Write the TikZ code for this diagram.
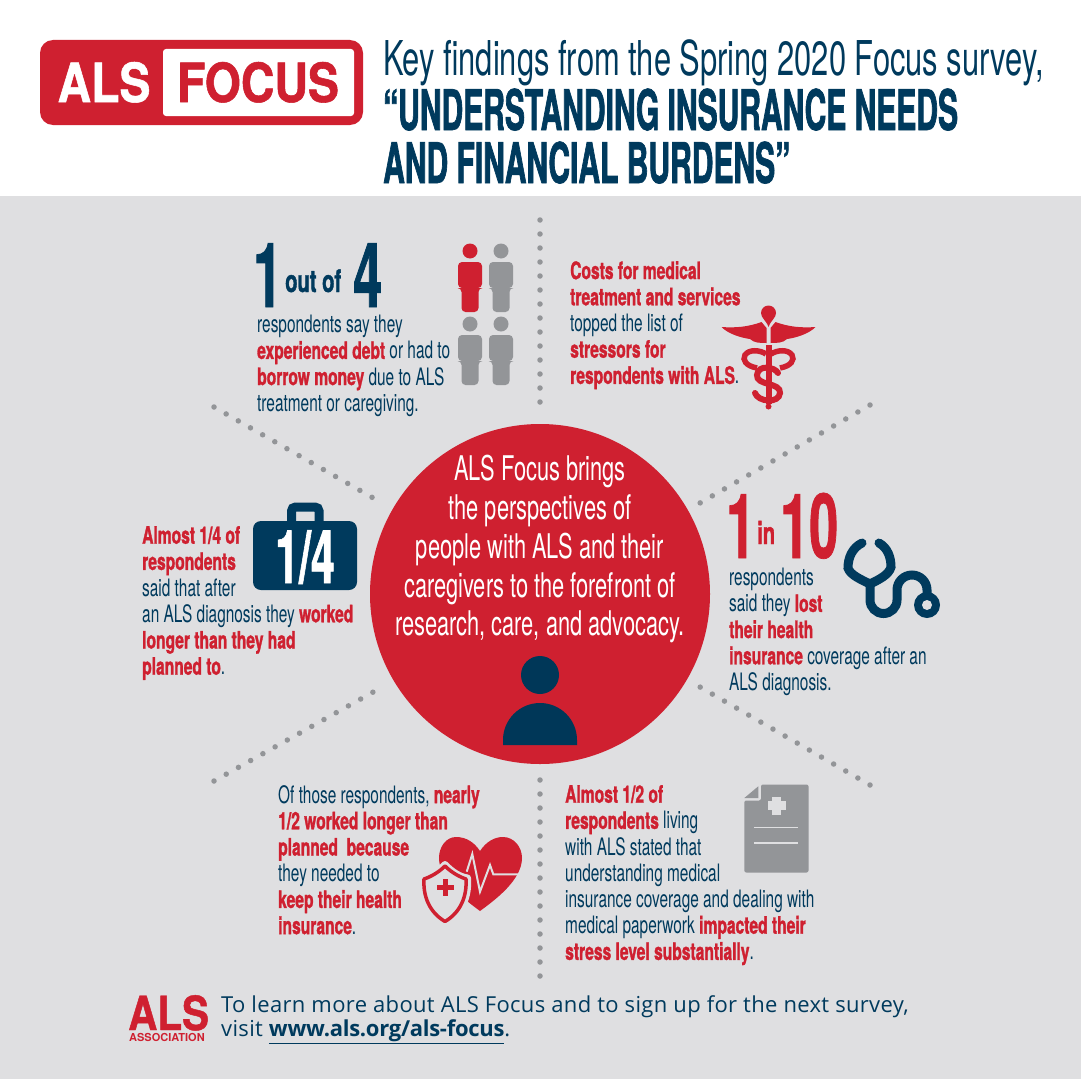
\documentclass[tikz,border=0pt]{standalone}
\usepackage{fontspec}
\setmainfont{TeX Gyre Heros}
\newfontfamily\bodyreg{TeX Gyre Heros}[FakeStretch=0.642]
\newfontfamily\bodyheavy{TeX Gyre Heros}[FakeStretch=0.65,BoldFeatures={FakeBold=1.2}]
\newfontfamily\titlereg{TeX Gyre Heros}[FakeStretch=0.643]
\newfontfamily\titleheavy{TeX Gyre Heros}[FakeStretch=0.536,BoldFeatures={FakeBold=1.2}]
\newfontfamily\bignum{TeX Gyre Heros}[FakeStretch=0.58,BoldFeatures={FakeBold=0.8}]
\newfontfamily\logofont{TeX Gyre Heros}[FakeStretch=0.86,BoldFeatures={FakeBold=1}]
\newfontfamily\assocfont{TeX Gyre Heros}[FakeStretch=1.0]
\newfontfamily\footfont{Open Sans}[LetterSpace=1.5,BoldFeatures={LetterSpace=-1.2}]
\definecolor{alsred}{RGB}{207, 32, 48}
\definecolor{alsnavy}{RGB}{0, 58, 93}
\definecolor{alsgray}{RGB}{147, 149, 152}
\definecolor{panelgray}{RGB}{223, 223, 225}
\newcommand{\hl}[1]{{\bodyheavy\bfseries\color{alsred}#1}}
\tikzset{
  bodytext/.style={anchor=north west, inner sep=0pt, align=left, text=alsnavy, font=\bodyreg\fontsize{24}{26.2}\selectfont},
  bignumber/.style={anchor=base west, inner sep=0pt, font=\bignum\bfseries\fontsize{90}{90}\selectfont},
  smallword/.style={anchor=base west, inner sep=0pt, font=\bodyheavy\bfseries\fontsize{31}{31}\selectfont},
  spoke/.style={draw=alsgray, line width=5.5pt, line cap=round, dash pattern=on 0pt off 14pt},
  personicon/.pic={
    \fill[pic actions] (0,0) circle (7.5);
    \fill[pic actions, rounded corners=4pt] (-12,37) -- (-12,11) -- (12,11) -- (12,37) -- (8.5,37) -- (8.5,61) -- (-8.5,61) -- (-8.5,37) -- cycle;
  }
}
\begin{document}
\begin{tikzpicture}[x=1pt, y=-1pt]
  \useasboundingbox (0,0) rectangle (1081,1081);
  \fill[white] (0,0) rectangle (1081,1081);
  \fill[panelgray] (0,196) rectangle (1081,1079);

  % Logo
  \fill[alsred, rounded corners=13pt] (40,40) rectangle (363,125);
  \fill[white, rounded corners=3pt] (163,49) rectangle (354,116);
  \node[anchor=base, inner sep=0pt, text=white, font=\logofont\bfseries\fontsize{54}{54}\selectfont] (logoals) at (104,102) {ALS};
  \node[anchor=base, inner sep=0pt, text=alsred, font=\logofont\bfseries\fontsize{54}{54}\selectfont] (logofocus) at (258,102) {FOCUS};

  % Title
  \node[anchor=base west, inner sep=0pt, text=alsnavy, font=\titlereg\fontsize{48}{48}\selectfont] (titleone) at (383,75) {Key findings from the Spring 2020 Focus survey,};
  \node[anchor=base west, inner sep=0pt, text=alsnavy, font=\titleheavy\bfseries\fontsize{56}{56}\selectfont] (titletwo) at (383,130) {“UNDERSTANDING INSURANCE NEEDS};
  \node[anchor=base west, inner sep=0pt, text=alsnavy, font=\titleheavy\bfseries\fontsize{56}{56}\selectfont] (titlethree) at (383,183) {AND FINANCIAL BURDENS”};

  % Dotted spokes
  \coordinate (topa) at (540,220);
  \coordinate (topb) at (540,403);
  \coordinate (bota) at (540,780);
  \coordinate (botb) at (540,977);
  \coordinate (ula) at (214,407);
  \coordinate (ulb) at (375,499);
  \coordinate (ura) at (870,405);
  \coordinate (urb) at (700,503);
  \coordinate (lla) at (214,781);
  \coordinate (llb) at (375,691);
  \coordinate (lra) at (870,785);
  \coordinate (lrb) at (700,687);
  \draw[spoke] (topa) -- (topb);
  \draw[spoke] (bota) -- (botb);
  \draw[spoke] (ula) -- (ulb);
  \draw[spoke] (ura) -- (urb);
  \draw[spoke] (lla) -- (llb);
  \draw[spoke] (lra) -- (lrb);

  % Centre circle
  \fill[alsred] (540,594) circle (170);
  \node[anchor=north, inner sep=0pt, align=center, text=white, font=\bodyreg\fontsize{34}{38.8}\selectfont] (centretext) at (540,455) {
    ALS Focus brings\\
    the perspectives of\\
    people with ALS and their\\
    caregivers to the forefront of\\
    research, care, and advocacy.
  };
  \fill[alsnavy!95!black] (540,675) circle (19);
  \fill[alsnavy!95!black] (503,745) -- (503,740) arc[start angle=180, end angle=360, x radius=37, y radius=37] -- (577,745) -- cycle;

  % One out of four
  \node[bignumber, text=alsnavy] (oneleft) at (253,307) {1};
  \node[smallword, text=alsnavy] (outof) at (285,292) {out of};
  \node[bignumber, text=alsnavy] (fourright) at (353,307) {4};
  \node[bodytext] (debttext) at (257,315) {
    respondents say they\\
    \hl{experienced debt} or had to\\
    \hl{borrow money} due to ALS\\
    treatment or caregiving.
  };
  \pic[fill=alsred] at (470,251) {personicon};
  \pic[fill=alsgray] at (501,251) {personicon};
  \pic[fill=alsgray] at (470,324) {personicon};
  \pic[fill=alsgray] at (501,324) {personicon};

  % Costs
  \node[bodytext] (coststext) at (570,261) {
    \hl{Costs for medical}\\
    \hl{treatment and services}\\
    topped the list of\\
    \hl{stressors for}\\
    \hl{respondents with ALS}.
  };
  \fill[alsred] (768.5,327) .. controls (766,320) and (761,318) .. (761,313) arc[start angle=180, end angle=360, radius=7.5] .. controls (776,318) and (771,320) .. (768.5,327) -- cycle;
  \fill[alsred] (766.5,328) -- (761.5,322) .. controls (748,327) and (735,328) .. (721.5,327) .. controls (728,334) and (742,338) .. (750,339) .. controls (754,343) and (760,343) .. (766.5,343) -- cycle;
  \fill[alsred] (770.5,328) -- (775.5,322) .. controls (789,327) and (802,328) .. (815.5,327) .. controls (809,334) and (795,338) .. (787,339) .. controls (783,343) and (777,343) .. (770.5,343) -- cycle;
  \fill[alsred] (765.5,345) rectangle (771.5,404);
  \fill[alsred] (768.5,406.5) circle (3);
  \draw[alsred, line width=5.5pt] (757,368) .. controls (746,366) and (742,360) .. (745,355) .. controls (749,349) and (760,350) .. (766,354);
  \draw[alsred, line width=5.5pt] (780,368) .. controls (791,366) and (795,360) .. (792,355) .. controls (788,349) and (777,350) .. (771,354);
  \draw[alsred, line width=6pt, line cap=round] (778,373) .. controls (775,367) and (758,364) .. (757,375) .. controls (756,386) and (781,382) .. (780,393) .. controls (779,404) and (758,402) .. (755,393);

  % Almost one quarter
  \node[bodytext] (quartertext) at (142,526) {
    \hl{Almost 1/4 of}\\
    \hl{respondents}\\
    said that after\\
    an ALS diagnosis they \hl{worked}\\
    \hl{longer than they had}\\
    \hl{planned to}.
  };
  \draw[alsnavy, line width=9pt, rounded corners=4pt] (291.5,522) -- (291.5,507) -- (319,507) -- (319,522);
  \fill[alsnavy, rounded corners=8pt] (253,521) rectangle (357,590);
  \node[anchor=base, inner sep=0pt, text=white, font=\bignum\bfseries\fontsize{74}{74}\selectfont] (quarterlabel) at (305,583) {1/4};

  % One in ten
  \node[bignumber, text=alsred] (onetop) at (726,558) {1};
  \node[smallword, text=alsred] (inword) at (757,544) {in};
  \node[bignumber, text=alsred] (tenright) at (780,558) {10};
  \node[bodytext] (insurancetext) at (729,568) {
    respondents\\
    said they \hl{lost}\\
    \hl{their health}\\
    \hl{insurance} coverage after an\\
    ALS diagnosis.
  };
  \draw[alsnavy, line width=9pt, line cap=round] (862,543) .. controls (852,548) and (848,558) .. (848,568) .. controls (850,575) and (862,580) .. (870,584) .. controls (878,580) and (889,575) .. (891,567) .. controls (891,558) and (888,548) .. (879,543);
  \draw[alsnavy, line width=9pt] (870,584) -- (870,600) arc[start angle=180, end angle=0, radius=13.5] -- (897,590) arc[start angle=180, end angle=360, radius=15] -- (927,600);
  \fill[alsnavy] (927,605) circle (13);
  \fill[panelgray] (927,605) circle (5);

  % Worked longer
  \node[bodytext] (workedtext) at (278,785) {
    Of those respondents, \hl{nearly}\\
    \hl{1/2 worked longer than}\\
    \hl{planned\ \ because}\\
    they needed to\\
    \hl{keep their health}\\
    \hl{insurance}.
  };
  \fill[alsred] (480,851) .. controls (474,842) and (466,837) .. (456,837) .. controls (446,837) and (439,847) .. (439,858) .. controls (439,880) and (465,900) .. (480,911) .. controls (495,900) and (522,880) .. (522,858) .. controls (522,847) and (514,837) .. (503,837) .. controls (494,837) and (486,842) .. (480,851) -- cycle;
  \draw[panelgray, line width=2pt] (466.7,871.7) -- (472.3,854) -- (480,891.7) -- (490,865) -- (493.3,874.3) -- (521,874.3);
  \draw[panelgray, fill=panelgray, line width=7pt, line join=round] (445,864.5) .. controls (452,872) and (460,877) .. (467.5,878) .. controls (469,896) and (462,914) .. (445,923) .. controls (428,914) and (421,896) .. (422.5,878) .. controls (430,877) and (438,872) .. (445,864.5) -- cycle;
  \draw[alsred, line width=3.5pt, line join=round] (445,866) .. controls (452,873) and (460,877) .. (466,879) .. controls (467,896) and (461,912) .. (445,921.5) .. controls (429,912) and (423,896) .. (424,879) .. controls (430,877) and (438,873) .. (445,866) -- cycle;
  \fill[alsred] (442.5,879) rectangle (447.5,895.5);
  \fill[alsred] (436.5,884.8) rectangle (453.5,889.8);

  % Paperwork
  \node[bodytext] (paperworktext) at (565,785) {
    \hl{Almost 1/2 of}\\
    \hl{respondents} living\\
    with ALS stated that\\
    understanding medical\\
    insurance coverage and dealing with\\
    medical paperwork \hl{impacted their}\\
    \hl{stress level substantially}.
  };
  \fill[alsgray, rounded corners=2pt] (761,784.5) -- (808.5,784.5) -- (808.5,872.5) -- (744.3,872.5) -- (744.3,800.5) -- (761,800.5) -- cycle;
  \fill[alsgray] (744.3,798) -- (758.3,786.3) -- (758.3,798) -- cycle;
  \fill[panelgray] (772.2,796.5) rectangle (781.2,815);
  \fill[panelgray] (767.5,801.2) rectangle (786,810.2);
  \draw[panelgray, line width=1.5pt] (754.3,827.3) -- (798.3,827.3);
  \draw[panelgray, line width=1.5pt] (754.3,843) -- (798.3,843);

  % Footer
  \node[anchor=base west, inner sep=0pt, text=alsred, font=\logofont\bfseries\fontsize{47}{47}\selectfont] (assocals) at (128,1030) {ALS};
  \node[anchor=base west, inner sep=0pt, text=alsred, font=\assocfont\bfseries\fontsize{11}{11}\selectfont] (assocword) at (129,1041) {ASSOCIATION};
  \node[anchor=north west, inner sep=0pt, align=left, text=alsnavy, font=\footfont\fontsize{22}{24}\selectfont] (footertext) at (221,995) {
    To learn more about ALS Focus and to sign up for the next survey,\\
    visit \underline{\textbf{www.als.org/als-focus}}.
  };
\end{tikzpicture}
\end{document}
